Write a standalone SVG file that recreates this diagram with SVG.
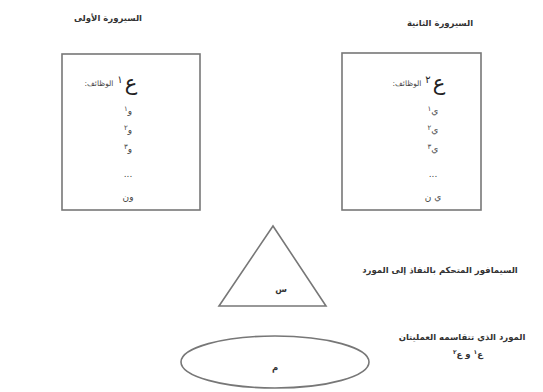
<svg xmlns="http://www.w3.org/2000/svg" width="543" height="392" viewBox="0 0 543 392">
<style>
.t{font-family:"DejaVu Sans","Noto Sans",sans-serif;fill:#333;text-anchor:middle;direction:rtl}
.b{font-weight:bold;font-size:8.5px}
.s{font-size:7.5px;fill:#444}
.i{font-size:9px;fill:#444}
.big{font-size:21px;fill:#222}
.d{font-size:10px;fill:#222}
.shape{fill:#fff;stroke:#777;stroke-width:1.6}
</style>
<rect width="543" height="392" fill="#fff"/>
<g id="title1"><text class="t b" x="108" y="21">السيرورة الأولى</text></g>
<g id="title2"><text class="t b" x="440" y="26">السيرورة الثانية</text></g>
<g id="process1">
<rect class="shape" x="62" y="54" width="138" height="156"/>
<text class="t big" x="131" y="90">ع</text>
<text class="t d" x="120" y="83">١</text>
<text class="t s" x="99" y="86">الوظائف:</text>
<text class="t i" x="128" y="114">و<tspan font-size="7" dy="-3">١</tspan></text>
<text class="t i" x="128" y="133">و<tspan font-size="7" dy="-3">٢</tspan></text>
<text class="t i" x="128" y="152">و<tspan font-size="7" dy="-3">٣</tspan></text>
<text class="t i" x="128" y="177">...</text>
<text class="t i" x="128" y="200">ون</text>
</g>
<g id="process2">
<rect class="shape" x="342" y="53" width="139" height="157"/>
<text class="t big" x="439" y="90">ع</text>
<text class="t d" x="428" y="83">٢</text>
<text class="t s" x="407" y="86">الوظائف:</text>
<text class="t i" x="433" y="114">ي<tspan font-size="7" dy="-3">١</tspan></text>
<text class="t i" x="433" y="133">ي<tspan font-size="7" dy="-3">٢</tspan></text>
<text class="t i" x="433" y="152">ي<tspan font-size="7" dy="-3">٣</tspan></text>
<text class="t i" x="433" y="177">...</text>
<text class="t i" x="433" y="200">ي ن</text>
</g>
<g id="semaphore">
<polygon class="shape" points="273,226 219,306 326,306"/>
<text class="t b" x="281" y="292" font-size="10">س</text>
</g>
<g id="semaphore-label"><text class="t b" x="440" y="273">السيمافور المتحكم بالنفاذ إلى المورد</text></g>
<g id="resource">
<ellipse class="shape" cx="275" cy="362" rx="94" ry="26"/>
<text class="t b" x="275" y="370" font-size="10">م</text>
</g>
<g id="resource-label">
<text class="t b" x="462" y="340">المورد الذي تتقاسمه العمليتان</text>
<text class="t b" x="468" y="357">ع<tspan font-size="6" dy="-3">١</tspan><tspan dy="3"> و ع</tspan><tspan font-size="6" dy="-3">٢</tspan></text>
</g>
<g id="connectors"></g>
</svg>
